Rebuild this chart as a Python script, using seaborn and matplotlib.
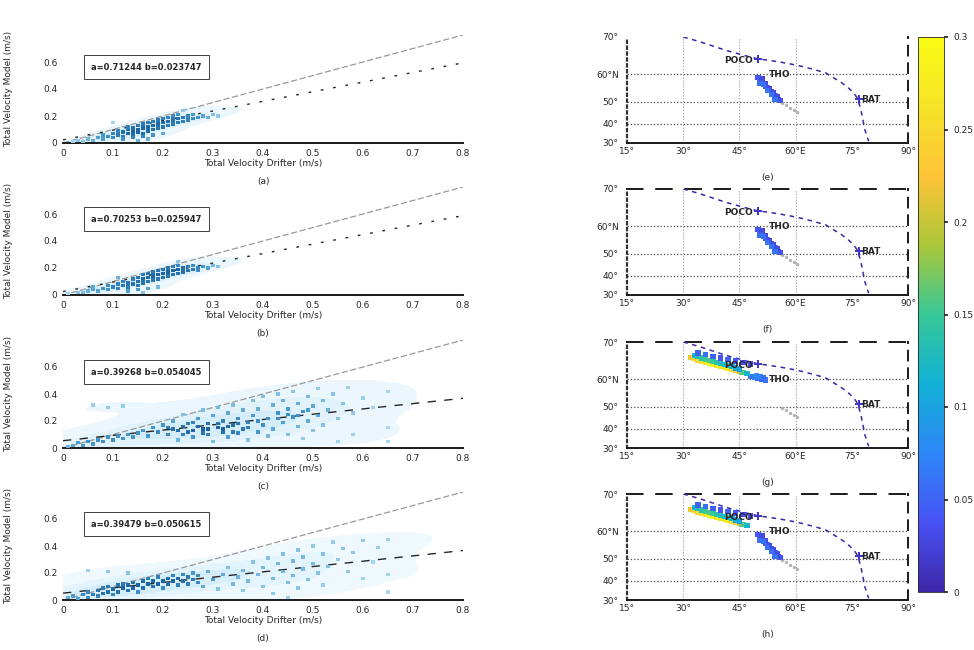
import numpy as np
import pandas as pd
import matplotlib
matplotlib.use("Agg")
import matplotlib.pyplot as plt
import seaborn as sns
from matplotlib.colors import LinearSegmentedColormap, Normalize
from matplotlib.cm import ScalarMappable

sns.set_theme(style="white")
plt.rcParams["font.family"] = ["DejaVu Sans"]

# ---------------- data: left scatter panels ----------------
x_ticks = [0, 0.1, 0.2, 0.3, 0.4, 0.5, 0.6, 0.7, 0.8]
x_tick_labels = ["0", "0.1", "0.2", "0.3", "0.4", "0.5", "0.6", "0.7", "0.8"]
y_ticks = [0, 0.2, 0.4, 0.6]
y_tick_labels = ["0", "0.2", "0.4", "0.6"]

p1_x = [0.02, 0.03, 0.04, 0.05, 0.06, 0.07, 0.08, 0.08, 0.09, 0.10, 0.10, 0.11, 0.11, 0.12, 0.12, 0.13, 0.13, 0.13,
        0.14, 0.14, 0.14, 0.15, 0.15, 0.15, 0.16, 0.16, 0.16, 0.17, 0.17, 0.17, 0.18, 0.18, 0.18, 0.19, 0.19, 0.19,
        0.20, 0.20, 0.20, 0.21, 0.21, 0.21, 0.22, 0.22, 0.22, 0.23, 0.23, 0.23, 0.24, 0.24, 0.25, 0.25, 0.26, 0.26,
        0.27, 0.28, 0.29, 0.30, 0.31, 0.12, 0.14, 0.16, 0.18, 0.20, 0.10, 0.24, 0.15, 0.17]
p1_y = [0.01, 0.02, 0.01, 0.03, 0.02, 0.04, 0.03, 0.06, 0.05, 0.04, 0.07, 0.06, 0.09, 0.05, 0.08, 0.07, 0.10, 0.12,
        0.06, 0.09, 0.11, 0.08, 0.10, 0.13, 0.07, 0.11, 0.14, 0.09, 0.12, 0.15, 0.10, 0.13, 0.16, 0.11, 0.14, 0.17,
        0.12, 0.15, 0.18, 0.13, 0.16, 0.19, 0.14, 0.17, 0.20, 0.15, 0.18, 0.21, 0.16, 0.19, 0.17, 0.20, 0.18, 0.21,
        0.19, 0.20, 0.19, 0.21, 0.20, 0.03, 0.04, 0.05, 0.06, 0.07, 0.15, 0.24, 0.02, 0.03]

p2_x = [0.01, 0.03, 0.04, 0.05, 0.06, 0.07, 0.08, 0.09, 0.09, 0.10, 0.11, 0.11, 0.12, 0.12, 0.13, 0.13, 0.14, 0.14,
        0.15, 0.15, 0.15, 0.16, 0.16, 0.16, 0.17, 0.17, 0.17, 0.18, 0.18, 0.18, 0.19, 0.19, 0.19, 0.20, 0.20, 0.20,
        0.21, 0.21, 0.21, 0.22, 0.22, 0.22, 0.23, 0.23, 0.23, 0.24, 0.24, 0.25, 0.25, 0.26, 0.26, 0.27, 0.27, 0.28,
        0.29, 0.30, 0.31, 0.13, 0.15, 0.17, 0.19, 0.11, 0.23, 0.16, 0.06]
p2_y = [0.01, 0.02, 0.02, 0.03, 0.04, 0.03, 0.05, 0.04, 0.07, 0.06, 0.05, 0.08, 0.07, 0.10, 0.06, 0.09, 0.08, 0.12,
        0.07, 0.10, 0.13, 0.09, 0.12, 0.15, 0.10, 0.13, 0.16, 0.11, 0.14, 0.17, 0.12, 0.15, 0.18, 0.13, 0.16, 0.19,
        0.14, 0.17, 0.20, 0.15, 0.18, 0.21, 0.16, 0.19, 0.22, 0.17, 0.20, 0.18, 0.21, 0.19, 0.22, 0.20, 0.18, 0.21,
        0.20, 0.22, 0.21, 0.03, 0.04, 0.05, 0.06, 0.13, 0.25, 0.02, 0.06]

p3_x = [0.01, 0.02, 0.03, 0.04, 0.05, 0.06, 0.07, 0.08, 0.09, 0.10, 0.11, 0.12, 0.13, 0.14, 0.06, 0.09, 0.12, 0.15,
        0.16, 0.17, 0.18, 0.19, 0.20, 0.21, 0.22, 0.22, 0.23, 0.24, 0.24, 0.25, 0.26, 0.26, 0.27, 0.28, 0.28, 0.29,
        0.29, 0.30, 0.30, 0.31, 0.31, 0.32, 0.32, 0.33, 0.33, 0.34, 0.34, 0.35, 0.35, 0.36, 0.36, 0.37, 0.37, 0.38,
        0.38, 0.39, 0.39, 0.40, 0.40, 0.41, 0.41, 0.42, 0.42, 0.43, 0.43, 0.44, 0.44, 0.45, 0.45, 0.46, 0.46, 0.47,
        0.47, 0.48, 0.48, 0.49, 0.49, 0.50, 0.50, 0.51, 0.51, 0.52, 0.52, 0.53, 0.54, 0.55, 0.56, 0.57, 0.58, 0.60,
        0.62, 0.65, 0.65, 0.65, 0.58, 0.55, 0.21, 0.23, 0.25, 0.27, 0.29, 0.31, 0.33, 0.35, 0.37, 0.39, 0.43, 0.45,
        0.47, 0.49, 0.24, 0.26, 0.28, 0.32, 0.34]
p3_y = [0.01, 0.02, 0.04, 0.02, 0.05, 0.03, 0.06, 0.05, 0.08, 0.06, 0.09, 0.07, 0.10, 0.08, 0.32, 0.30, 0.31, 0.11,
        0.13, 0.09, 0.15, 0.12, 0.17, 0.10, 0.14, 0.20, 0.06, 0.16, 0.25, 0.12, 0.19, 0.08, 0.22, 0.14, 0.28, 0.10,
        0.18, 0.24, 0.05, 0.15, 0.30, 0.12, 0.20, 0.08, 0.26, 0.17, 0.32, 0.11, 0.22, 0.14, 0.28, 0.06, 0.19, 0.24,
        0.35, 0.12, 0.29, 0.17, 0.38, 0.22, 0.09, 0.32, 0.14, 0.26, 0.40, 0.19, 0.35, 0.10, 0.29, 0.23, 0.42, 0.16,
        0.33, 0.27, 0.07, 0.38, 0.20, 0.31, 0.13, 0.44, 0.24, 0.35, 0.17, 0.28, 0.40, 0.22, 0.33, 0.45, 0.26, 0.37,
        0.30, 0.42, 0.15, 0.05, 0.10, 0.05, 0.15, 0.13, 0.18, 0.16, 0.14, 0.18, 0.16, 0.18, 0.15, 0.20, 0.22, 0.25,
        0.24, 0.28, 0.10, 0.13, 0.11, 0.14, 0.12]

p4_x = [0.01, 0.02, 0.03, 0.04, 0.05, 0.05, 0.06, 0.07, 0.07, 0.08, 0.08, 0.09, 0.09, 0.10, 0.10, 0.11, 0.11, 0.12,
        0.12, 0.13, 0.13, 0.14, 0.14, 0.15, 0.15, 0.16, 0.16, 0.17, 0.17, 0.18, 0.18, 0.19, 0.19, 0.20, 0.20, 0.21,
        0.21, 0.22, 0.22, 0.23, 0.23, 0.24, 0.24, 0.25, 0.25, 0.26, 0.26, 0.27, 0.27, 0.05, 0.09, 0.13, 0.28, 0.29,
        0.30, 0.31, 0.32, 0.33, 0.34, 0.35, 0.36, 0.36, 0.37, 0.38, 0.39, 0.40, 0.40, 0.41, 0.42, 0.42, 0.43, 0.44,
        0.44, 0.45, 0.46, 0.46, 0.47, 0.47, 0.48, 0.48, 0.49, 0.50, 0.50, 0.51, 0.52, 0.52, 0.53, 0.54, 0.55, 0.56,
        0.57, 0.58, 0.60, 0.62, 0.63, 0.65, 0.65, 0.65, 0.60, 0.45]
p4_y = [0.02, 0.03, 0.01, 0.04, 0.02, 0.06, 0.04, 0.07, 0.03, 0.05, 0.09, 0.06, 0.10, 0.04, 0.08, 0.11, 0.06, 0.09,
        0.12, 0.07, 0.11, 0.09, 0.13, 0.06, 0.11, 0.14, 0.09, 0.12, 0.16, 0.10, 0.14, 0.12, 0.17, 0.09, 0.14, 0.16,
        0.12, 0.18, 0.14, 0.11, 0.16, 0.19, 0.14, 0.17, 0.12, 0.20, 0.15, 0.18, 0.13, 0.22, 0.21, 0.20, 0.10, 0.21,
        0.15, 0.08, 0.19, 0.24, 0.12, 0.17, 0.22, 0.07, 0.14, 0.28, 0.19, 0.10, 0.24, 0.31, 0.16, 0.05, 0.27, 0.21,
        0.34, 0.13, 0.29, 0.18, 0.37, 0.09, 0.23, 0.32, 0.15, 0.27, 0.40, 0.20, 0.34, 0.11, 0.25, 0.43, 0.30, 0.38,
        0.21, 0.35, 0.44, 0.28, 0.39, 0.45, 0.19, 0.06, 0.16, 0.02]

panel_x = [p1_x, p2_x, p3_x, p4_x]
panel_y = [p1_y, p2_y, p3_y, p4_y]
fit_a = [0.71244, 0.70253, 0.39268, 0.39479]
fit_b = [0.023747, 0.025947, 0.054045, 0.050615]
fit_text = ["a=0.71244 b=0.023747", "a=0.70253 b=0.025947",
            "a=0.39268 b=0.054045", "a=0.39479 b=0.050615"]
ref_x = [0.0, 0.8]
ref_y = [0.0, 0.8]
left_letters = ["(a)", "(b)", "(c)", "(d)"]

# ---------------- data: right map panels ----------------
lon_ticks = [15, 30, 45, 60, 75, 90]
lon_tick_labels = ["15°", "30°", "45°", "60°E", "75°", "90°"]
lat_ticks = [30, 40, 50, 60, 70]
lat_tick_labels = ["30°", "40°", "50°", "60°N", "70°"]

track_lon = [30, 33, 36, 39, 42, 45, 48, 50, 53, 56, 59, 62, 65, 68, 70, 72, 74, 75.5, 76.5, 77, 77.5, 78, 78, 78.5, 79, 79.5]
track_lat = [70, 69.3, 68.5, 67.6, 66.7, 65.9, 65.1, 64.6, 64.2, 63.7, 63.1, 62.4, 61.5, 60.5, 59, 57.5, 55.5, 53.5, 51.5, 49, 46, 43, 40, 37, 34, 31]

site_lon = [50, 77]
site_lat = [64.6, 51]
site_names = ["POCO", "THO", "BAT"]
site_label_lon = [41, 53, 77.5]
site_label_lat = [64.3, 60, 51]

blob_lon = [50, 50.5, 51, 51.5, 52, 52.5, 53, 53.5, 54, 54.5, 55, 55.5, 56, 51, 52, 53, 54, 55, 50.5, 51.5, 52.5, 53.5, 54.5]
blob_lat = [59, 58, 57.5, 57, 56, 55.5, 55, 54, 53, 52.5, 52, 51, 50.5, 58.5, 57, 55, 53.5, 51.5, 57, 56.5, 54.5, 53, 51]
blob_val = [0.04, 0.05, 0.04, 0.05, 0.04, 0.05, 0.04, 0.05, 0.04, 0.05, 0.04, 0.05, 0.04,
            0.03, 0.03, 0.03, 0.03, 0.03, 0.06, 0.06, 0.06, 0.06, 0.06]

small_blob_lon = [48, 49, 50, 51, 52, 49.5, 50.5, 51.5]
small_blob_lat = [61, 60.7, 60.4, 60.1, 59.8, 61.2, 60.8, 60.5]
small_blob_val = [0.06, 0.07, 0.06, 0.05, 0.06, 0.08, 0.07, 0.06]

tail_lon = [56.5, 57.5, 58.5, 59.5, 60.5]
tail_lat = [49.5, 48.5, 47.5, 46.5, 45.5]

streak_lon = [32, 33, 34, 35, 36, 37, 38, 39, 40, 41, 42, 43, 44, 45, 46, 47,
              33, 34, 35, 36, 37, 38, 39, 40, 41, 42, 43, 44, 45,
              34, 36, 38, 40, 42, 44, 46, 48]
streak_lat = [66.3, 66.0, 65.7, 65.4, 65.1, 64.8, 64.5, 64.2, 63.9, 63.6, 63.3, 63.0, 62.7, 62.4, 62.1, 61.8,
              66.8, 66.5, 66.2, 65.9, 65.6, 65.3, 65.0, 64.7, 64.4, 64.1, 63.8, 63.5, 63.2,
              67.4, 67.0, 66.6, 66.2, 65.8, 65.4, 65.0, 64.6]
streak_val = [0.22, 0.24, 0.25, 0.26, 0.27, 0.28, 0.28, 0.27, 0.26, 0.27, 0.28, 0.25, 0.22, 0.2, 0.16, 0.12,
              0.12, 0.13, 0.14, 0.15, 0.16, 0.15, 0.14, 0.13, 0.12, 0.13, 0.12, 0.11, 0.1,
              0.05, 0.06, 0.05, 0.04, 0.05, 0.04, 0.03, 0.03]
right_letters = ["(e)", "(f)", "(g)", "(h)"]
cbar_ticks = [0, 0.05, 0.1, 0.15, 0.2, 0.25, 0.3]
cbar_labels = ["0", "0.05", "0.1", "0.15", "0.2", "0.25", "0.3"]

# ---------------- helpers ----------------
parula = LinearSegmentedColormap.from_list("parula", [
    (0.0, (0.2422, 0.1504, 0.6603)), (0.125, (0.2810, 0.3228, 0.9579)),
    (0.25, (0.1786, 0.5289, 0.9682)), (0.375, (0.0689, 0.6948, 0.8394)),
    (0.5, (0.2161, 0.7843, 0.5923)), (0.625, (0.6720, 0.7793, 0.2227)),
    (0.75, (0.9970, 0.7659, 0.2199)), (0.875, (0.9619, 0.8914, 0.1537)),
    (1.0, (0.9769, 0.9839, 0.0805))])
pnorm = Normalize(0, 0.3)
blue_cmap = LinearSegmentedColormap.from_list("bl", ["#a6d7f0", "#4396cc", "#1c63a0"])
haze_cmap = LinearSegmentedColormap.from_list("hz", ["#f2fafe", "#cdeaf8"])


def merc(lat):
    return np.log(np.tan(np.pi / 4 + np.radians(np.asarray(lat, dtype=float)) / 2))


def density(x, y, h=0.035):
    x = np.asarray(x); y = np.asarray(y)
    d2 = (x[:, None] - x[None, :]) ** 2 + (y[:, None] - y[None, :]) ** 2
    return np.exp(-d2 / (2 * h * h)).sum(axis=1)


fig = plt.figure(figsize=(9.74, 6.5), dpi=100)
W, H = 974.0, 650.0
bottoms = [143, 295, 448, 600]
fs = 6.5

# ---------------- left panels ----------------
for i in range(4):
    ax = fig.add_axes([63 / W, 1 - bottoms[i] / H, 400 / W, 108 / H])
    df = pd.DataFrame({"x": panel_x[i], "y": panel_y[i]})
    df["d"] = density(df["x"], df["y"])
    sns.kdeplot(data=df, x="x", y="y", fill=True, cmap=haze_cmap, levels=4, thresh=0.08,
                bw_adjust=1.3, ax=ax, zorder=0)
    sns.scatterplot(data=df, x="x", y="y", hue="d", palette=blue_cmap, s=6, linewidth=0,
                    marker="s", legend=False, ax=ax, zorder=3)
    sns.lineplot(x=ref_x, y=ref_y, color="0.6", lw=0.9, linestyle=(0, (5, 2)), ax=ax, zorder=2)
    fx = np.array(ref_x)
    sns.lineplot(x=fx, y=fit_a[i] * fx + fit_b[i], color="0.15", lw=1.0,
                 linestyle=(0, (2, 7)) if i < 2 else (0, (6, 6)), ax=ax, zorder=2)
    ax.set_xlim(0, 0.8)
    ax.set_ylim(0, 0.8)
    ax.set_xticks(x_ticks)
    ax.set_xticklabels(x_tick_labels, fontsize=fs)
    ax.set_yticks(y_ticks)
    ax.set_yticklabels(y_tick_labels, fontsize=fs)
    ax.tick_params(length=0, pad=4)
    for s in ["top", "right", "left"]:
        ax.spines[s].set_visible(False)
    ax.spines["bottom"].set_color("0.1")
    ax.spines["bottom"].set_linewidth(1.4)
    ax.set_xlabel("Total Velocity Drifter (m/s)", fontsize=fs, labelpad=1)
    ax.set_ylabel("Total Velocity Model (m/s)", fontsize=fs)
    ax.yaxis.set_label_coords(-0.125, 0.5)
    ax.text(0.5, -0.36, left_letters[i], transform=ax.transAxes, ha="center", va="center", fontsize=fs)
    ax.text(0.07, 0.70, fit_text[i], transform=ax.transAxes, ha="left", va="center",
            fontsize=6, fontweight="bold",
            bbox=dict(boxstyle="square,pad=0.9", facecolor="white", edgecolor="0.25", linewidth=0.7))

# ---------------- right panels ----------------
for i in range(4):
    ax = fig.add_axes([627 / W, 1 - bottoms[i] / H, 281 / W, 106 / H])
    for gx in [30, 45, 60]:
        ax.axvline(gx, color="0.6", lw=0.8, linestyle=":", zorder=0)
    for gy in [40, 50, 60]:
        ax.axhline(merc(gy), color="0.3", lw=0.9, linestyle=":", zorder=0)
    sns.scatterplot(x=tail_lon, y=merc(tail_lat), color="0.7", s=6, linewidth=0, legend=False, ax=ax)
    sns.lineplot(x=track_lon, y=merc(track_lat), sort=False, color=parula(0.0), lw=1.1,
                 linestyle=(0, (3, 3)), ax=ax, zorder=3)
    sns.scatterplot(x=site_lon, y=merc(site_lat), color=parula(0.05), marker="P", s=40,
                    linewidth=0, legend=False, ax=ax, zorder=4)
    if i < 2:
        dfb = pd.DataFrame({"lon": blob_lon, "lat": merc(blob_lat), "v": blob_val})
    elif i == 2:
        dfb = pd.DataFrame({"lon": small_blob_lon + streak_lon,
                            "lat": merc(small_blob_lat + streak_lat),
                            "v": small_blob_val + streak_val})
    else:
        dfb = pd.DataFrame({"lon": blob_lon + streak_lon,
                            "lat": merc(blob_lat + streak_lat),
                            "v": blob_val + streak_val})
    sns.scatterplot(data=dfb, x="lon", y="lat", hue="v", palette=parula, hue_norm=pnorm,
                    s=15, marker="s", linewidth=0, legend=False, ax=ax, zorder=3)
    for name, lx, ly in zip(site_names, site_label_lon, site_label_lat):
        ax.text(lx, merc(ly), name, fontsize=6.5, fontweight="bold", ha="left", va="center", zorder=5)
    ax.set_xlim(15, 90)
    ax.set_ylim(merc(30), merc(70))
    ax.set_xticks(lon_ticks)
    ax.set_xticklabels(lon_tick_labels, fontsize=fs)
    ax.set_yticks(merc(lat_ticks))
    ax.set_yticklabels(lat_tick_labels, fontsize=fs)
    ax.tick_params(axis="x", length=0, pad=3)
    ax.tick_params(axis="y", length=4, width=1.0, color="0.1", pad=2)
    ax.set_xlabel("")
    ax.set_ylabel("")
    ax.spines["bottom"].set_color("0.1")
    ax.spines["bottom"].set_linewidth(1.4)
    ax.spines["left"].set_linestyle(":")
    ax.spines["left"].set_linewidth(1.6)
    ax.spines["left"].set_color("0.2")
    ax.spines["right"].set_linestyle((0, (5, 4)))
    ax.spines["right"].set_linewidth(1.4)
    ax.spines["right"].set_color("0.1")
    if i == 0:
        ax.spines["top"].set_visible(False)
    else:
        ax.spines["top"].set_linestyle((0, (8, 7)))
        ax.spines["top"].set_linewidth(1.4)
        ax.spines["top"].set_color("0.1")
    ax.text(0.5, -0.33, right_letters[i], transform=ax.transAxes, ha="center", va="center", fontsize=fs)

# ---------------- colorbar ----------------
cax = fig.add_axes([918 / W, 1 - 592 / H, 26 / W, (592 - 37) / H])
cb = fig.colorbar(ScalarMappable(norm=pnorm, cmap=parula), cax=cax)
cb.set_ticks(cbar_ticks)
cb.set_ticklabels(cbar_labels)
cb.ax.tick_params(labelsize=fs, length=3)
cb.outline.set_linewidth(0.6)

fig.savefig("out.png", dpi=100)
